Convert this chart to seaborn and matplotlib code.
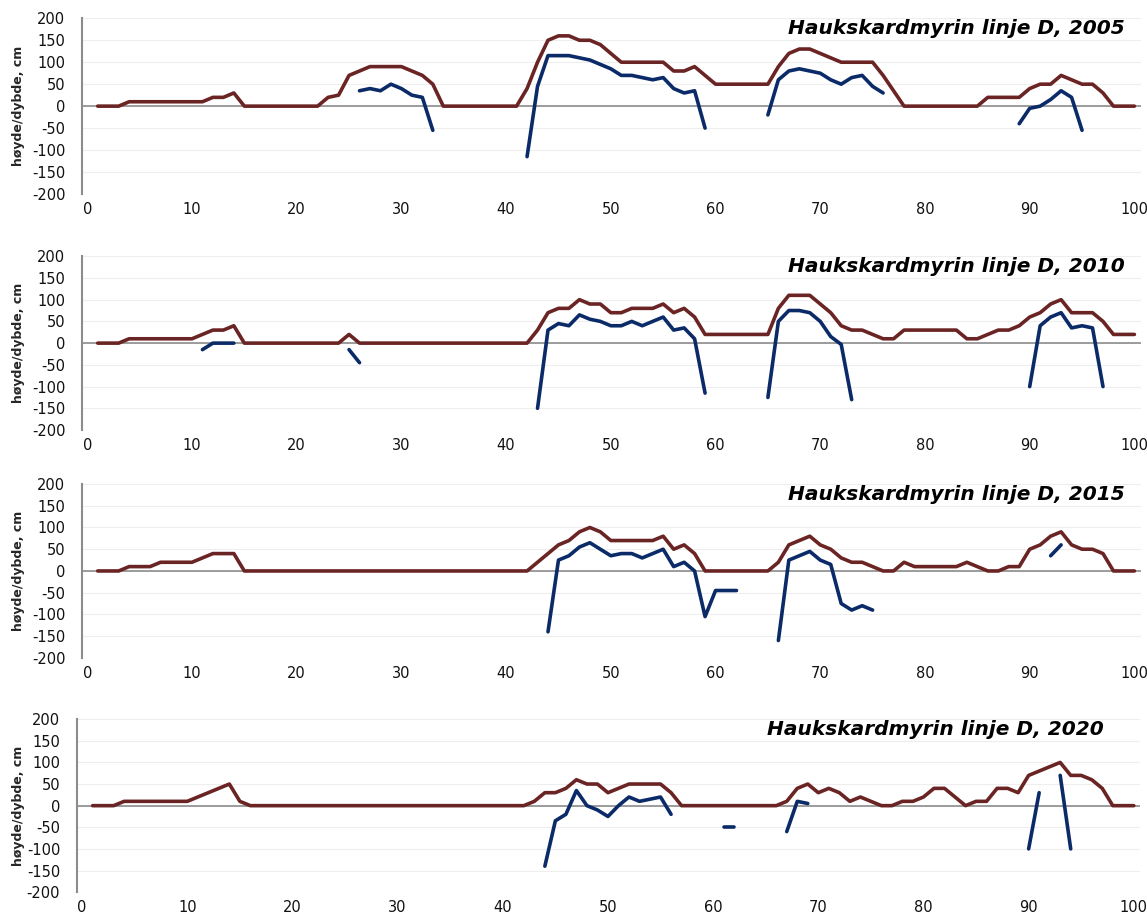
import numpy as np
import pandas as pd
import seaborn as sns
from matplotlib import pyplot as plt

# %%
# posisjon langs linja (0-100 m)
x = list(range(1, 101))
N = None

hoyde_2005 = [0, 0, 0, 10, 10, 10, 10, 10, 10, 10,
              10, 20, 20, 30, 0, 0, 0, 0, 0, 0,
              0, 0, 20, 25, 70, 80, 90, 90, 90, 90,
              80, 70, 50, 0, 0, 0, 0, 0, 0, 0,
              0, 40, 100, 150, 160, 160, 150, 150, 140, 120,
              100, 100, 100, 100, 100, 80, 80, 90, 70, 50,
              50, 50, 50, 50, 50, 90, 120, 130, 130, 120,
              110, 100, 100, 100, 100, 70, 35, 0, 0, 0,
              0, 0, 0, 0, 0, 20, 20, 20, 20, 40,
              50, 50, 70, 60, 50, 50, 30, 0, 0, 0]
dybde_2005 = [N, N, N, N, N, N, N, N, N, N,
              N, N, N, N, N, N, N, N, N, N,
              N, N, N, N, N, 35, 40, 35, 50, 40,
              25, 20, -55, N, N, N, N, N, N, N,
              N, -115, 45, 115, 115, 115, 110, 105, 95, 85,
              70, 70, 65, 60, 65, 40, 30, 35, -50, N,
              N, N, N, N, -20, 60, 80, 85, 80, 75,
              60, 50, 65, 70, 45, 30, N, N, N, N,
              N, N, N, N, N, N, N, N, -40, -5,
              0, 15, 35, 20, -55, N, N, N, N, N]

hoyde_2010 = [0, 0, 0, 10, 10, 10, 10, 10, 10, 10,
              20, 30, 30, 40, 0, 0, 0, 0, 0, 0,
              0, 0, 0, 0, 20, 0, 0, 0, 0, 0,
              0, 0, 0, 0, 0, 0, 0, 0, 0, 0,
              0, 0, 30, 70, 80, 80, 100, 90, 90, 70,
              70, 80, 80, 80, 90, 70, 80, 60, 20, 20,
              20, 20, 20, 20, 20, 80, 110, 110, 110, 90,
              70, 40, 30, 30, 20, 10, 10, 30, 30, 30,
              30, 30, 30, 10, 10, 20, 30, 30, 40, 60,
              70, 90, 100, 70, 70, 70, 50, 20, 20, 20]
dybde_2010 = [N, N, N, N, N, N, N, N, N, N,
              -15, 0, 0, 0, N, N, N, N, N, N,
              N, N, N, N, -15, -45, N, N, N, N,
              N, N, N, N, N, N, N, N, N, N,
              N, N, -150, 30, 45, 40, 65, 55, 50, 40,
              40, 50, 40, 50, 60, 30, 35, 10, -115, N,
              N, N, N, N, -125, 50, 75, 75, 70, 50,
              15, -3, -130, N, N, N, N, N, N, N,
              N, N, N, N, N, N, N, N, N, -100,
              40, 60, 70, 35, 40, 35, -100, N, N, N]

hoyde_2015 = [0, 0, 0, 10, 10, 10, 20, 20, 20, 20,
              30, 40, 40, 40, 0, 0, 0, 0, 0, 0,
              0, 0, 0, 0, 0, 0, 0, 0, 0, 0,
              0, 0, 0, 0, 0, 0, 0, 0, 0, 0,
              0, 0, 20, 40, 60, 70, 90, 100, 90, 70,
              70, 70, 70, 70, 80, 50, 60, 40, 0, 0,
              0, 0, 0, 0, 0, 20, 60, 70, 80, 60,
              50, 30, 20, 20, 10, 0, 0, 20, 10, 10,
              10, 10, 10, 20, 10, 0, 0, 10, 10, 50,
              60, 80, 90, 60, 50, 50, 40, 0, 0, 0]
dybde_2015 = [N, N, N, N, N, N, N, N, N, N,
              N, N, N, N, N, N, N, N, N, N,
              N, N, N, N, N, N, N, N, N, N,
              N, N, N, N, N, N, N, N, N, N,
              N, N, N, -140, 25, 35, 55, 65, 50, 35,
              40, 40, 30, 40, 50, 10, 20, 0, -105, -45,
              -45, -45, N, N, N, -160, 25, 35, 45, 25,
              15, -75, -90, -80, -90, N, N, N, N, N,
              N, N, N, N, N, N, N, N, N, N,
              N, 35, 60, N, N, N, N, N, N, N]

hoyde_2020 = [0, 0, 0, 10, 10, 10, 10, 10, 10, 10,
              20, 30, 40, 50, 10, 0, 0, 0, 0, 0,
              0, 0, 0, 0, 0, 0, 0, 0, 0, 0,
              0, 0, 0, 0, 0, 0, 0, 0, 0, 0,
              0, 0, 10, 30, 30, 40, 60, 50, 50, 30,
              40, 50, 50, 50, 50, 30, 0, 0, 0, 0,
              0, 0, 0, 0, 0, 0, 10, 40, 50, 30,
              40, 30, 10, 20, 10, 0, 0, 10, 10, 20,
              40, 40, 20, 0, 10, 10, 40, 40, 30, 70,
              80, 90, 100, 70, 70, 60, 40, 0, 0, 0]
dybde_2020 = [N, N, N, N, N, N, N, N, N, N,
              N, N, N, N, N, N, N, N, N, N,
              N, N, N, N, N, N, N, N, N, N,
              N, N, N, N, N, N, N, N, N, N,
              N, N, N, -140, -35, -20, 35, 0, -10, -25,
              0, 20, 10, 15, 20, -20, N, N, N, N,
              -50, -50, N, N, N, N, -60, 10, 5, N,
              N, N, N, N, N, N, N, N, N, N,
              N, N, N, N, N, N, N, N, N, -100,
              30, N, 70, -100, N, N, N, N, N, N]

aar = ['2005', '2010', '2015', '2020']
hoyde = [hoyde_2005, hoyde_2010, hoyde_2015, hoyde_2020]
dybde = [dybde_2005, dybde_2010, dybde_2015, dybde_2020]

# %%
sns.set_style('white')
plt.rcParams['font.family'] = ['DejaVu Sans']
plt.rcParams['axes.unicode_minus'] = False

farge_hoyde = '#6b2424'
farge_dybde = '#0b2a68'

fig = plt.figure(figsize=(11.47, 9.15), dpi=100)

# plassering av panelene (venstre, bunn, bredde, hoyde)
pos = [
    [0.0715, 0.788, 0.923, 0.192],
    [0.0715, 0.530, 0.923, 0.190],
    [0.0715, 0.281, 0.923, 0.190],
    [0.0670, 0.025, 0.927, 0.189],
]
tittel_x = [0.985, 0.985, 0.985, 0.966]

for i in range(4):
    ax = fig.add_axes(pos[i])
    df = pd.DataFrame({'x': x, 'hoyde': hoyde[i],
                       'dybde': pd.array(dybde[i], dtype='Float64')})
    df['dybde'] = df['dybde'].astype(float)
    # del opp dybde-linja der det mangler verdier
    df['seg'] = df['dybde'].isna().cumsum()
    d = df.dropna(subset=['dybde'])

    ax.axhline(0, color='#8c8c8c', lw=1.2, zorder=1)
    sns.lineplot(data=df, x='x', y='hoyde', color=farge_hoyde, lw=2.6,
                 ax=ax, zorder=3)
    sns.lineplot(data=d, x='x', y='dybde', units='seg', estimator=None,
                 color=farge_dybde, lw=2.6, ax=ax, zorder=4)

    ax.set_xlim(-0.5, 100.6)
    ax.set_ylim(-200, 200)
    ax.set_yticks(range(-200, 201, 50))
    ax.set_xticks(range(0, 101, 10))
    ax.yaxis.grid(True, color='#eeeeee', lw=0.8)
    ax.set_axisbelow(True)
    for s in ['top', 'right', 'bottom']:
        ax.spines[s].set_visible(False)
    ax.spines['left'].set_color('#8c8c8c')
    ax.spines['left'].set_linewidth(1.5)
    ax.tick_params(length=0, labelsize=10.5, colors='#111111')
    ax.tick_params(axis='y', pad=12)
    ax.tick_params(axis='x', pad=6)
    ax.set_xlabel('')
    ax.set_ylabel('høyde/dybde, cm', fontsize=9, fontweight='bold',
                  family=['Liberation Sans Narrow', 'DejaVu Sans'])
    ax.yaxis.set_label_coords(-0.054 + (0.0715 - pos[i][0]) * 1.08, 0.5)
    ax.text(tittel_x[i], 0.94, 'Haukskardmyrin linje D, ' + aar[i],
            transform=ax.transAxes, ha='right', va='center',
            fontsize=14.5, fontweight='bold', fontstyle='italic',
            family=['DejaVu Sans'], color='black')

plt.savefig('out.png', dpi=100)
